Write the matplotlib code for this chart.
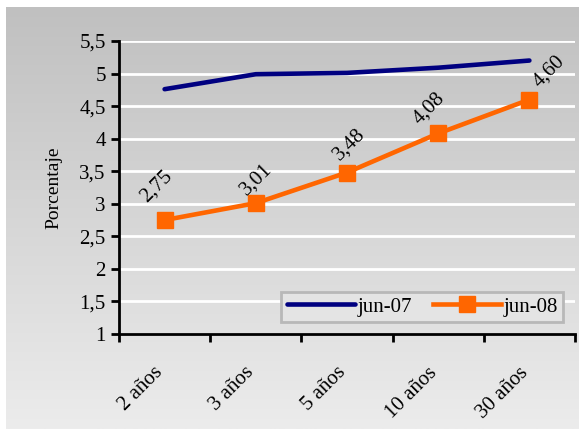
import numpy as np
import matplotlib.pyplot as plt

plazos = ['2 años', '3 años', '5 años', '10 años', '30 años']
jun07 = [4.76, 4.99, 5.01, 5.09, 5.20]
jun08 = [2.75, 3.01, 3.48, 4.08, 4.60]
etiquetas08 = ['2,75', '3,01', '3,48', '4,08', '4,60']
yticks = [1, 1.5, 2, 2.5, 3, 3.5, 4, 4.5, 5, 5.5]
yticklabels = ['1', '1,5', '2', '2,5', '3', '3,5', '4', '4,5', '5', '5,5']

plt.rcParams['font.family'] = ['Liberation Serif', 'DejaVu Serif']

W, H = 579, 429
fig = plt.figure(figsize=(W / 100, H / 100), dpi=100)
fig.patch.set_facecolor('white')

# degradado gris del fondo
bg = fig.add_axes([6 / W, 0, 1 - 6 / W, 1 - 7 / H])
grad = np.linspace(0, 1, 256).reshape(-1, 1)
bg.imshow(grad, aspect='auto', cmap=plt.matplotlib.colors.LinearSegmentedColormap.from_list(
    'g', ['#c0c0c0', '#ececec']), extent=[0, 1, 0, 1], origin='upper')
bg.set_axis_off()

ax = fig.add_axes([119 / W, 1 - 334 / H, (575 - 119) / W, (334 - 41) / H])
ax.set_facecolor('none')

x = np.arange(len(plazos))
ax.plot(x, jun07, color='#000080', lw=3.3, solid_capstyle='round', label='jun-07', zorder=3)
ax.plot(x, jun08, color='#ff6600', lw=3.3, marker='s', markersize=11, label='jun-08', zorder=3)

# etiquetas de valor, giradas 45 grados sobre cada punto
dx = [-6, 0, 2, -7, 14]
dy = [24, 17, 20, 18, 20]
for xi, yi, t, ox, oy in zip(x, jun08, etiquetas08, dx, dy):
    ax.annotate(t, (xi, yi), xytext=(ox, oy), textcoords='offset points',
                rotation=45, fontsize=15, ha='center', va='center')

ax.set_xlim(-0.5, len(plazos) - 0.5)
ax.set_ylim(1, 5.5)
ax.set_yticks(yticks)
ax.set_yticklabels(yticklabels, fontsize=15)
ax.set_xticks(np.arange(-0.5, len(plazos), 1))
ax.set_xticklabels([])
# rótulos de categoría un poco a la izquierda del centro
ax.set_xticks(x - 0.12, minor=True)
ax.set_xticklabels(plazos, minor=True, rotation=45, fontsize=15, ha='right', va='top',
                   rotation_mode='anchor')
ax.tick_params(axis='x', which='minor', length=0, pad=21)
ax.tick_params(axis='both', which='major', length=6, width=2, direction='out')
ax.yaxis.grid(True, color='white', lw=2)
ax.set_axisbelow(True)
for s in ['top', 'right']:
    ax.spines[s].set_visible(False)
for s in ['left', 'bottom']:
    ax.spines[s].set_linewidth(2)
ax.set_ylabel('Porcentaje', fontsize=14, labelpad=12)

leg = ax.legend(loc='lower right', ncol=2, fontsize=15, frameon=True, fancybox=False,
                handlelength=3.3, handletextpad=0.1, columnspacing=1.0,
                borderpad=0.25, borderaxespad=0, bbox_to_anchor=(0.974, 0.041))
leg.get_frame().set_edgecolor('#b8b8b8')
leg.get_frame().set_linewidth(2)
leg.get_frame().set_facecolor('#e4e4e4')
leg.get_frame().set_alpha(1)

fig.savefig('out.png', dpi=100)
